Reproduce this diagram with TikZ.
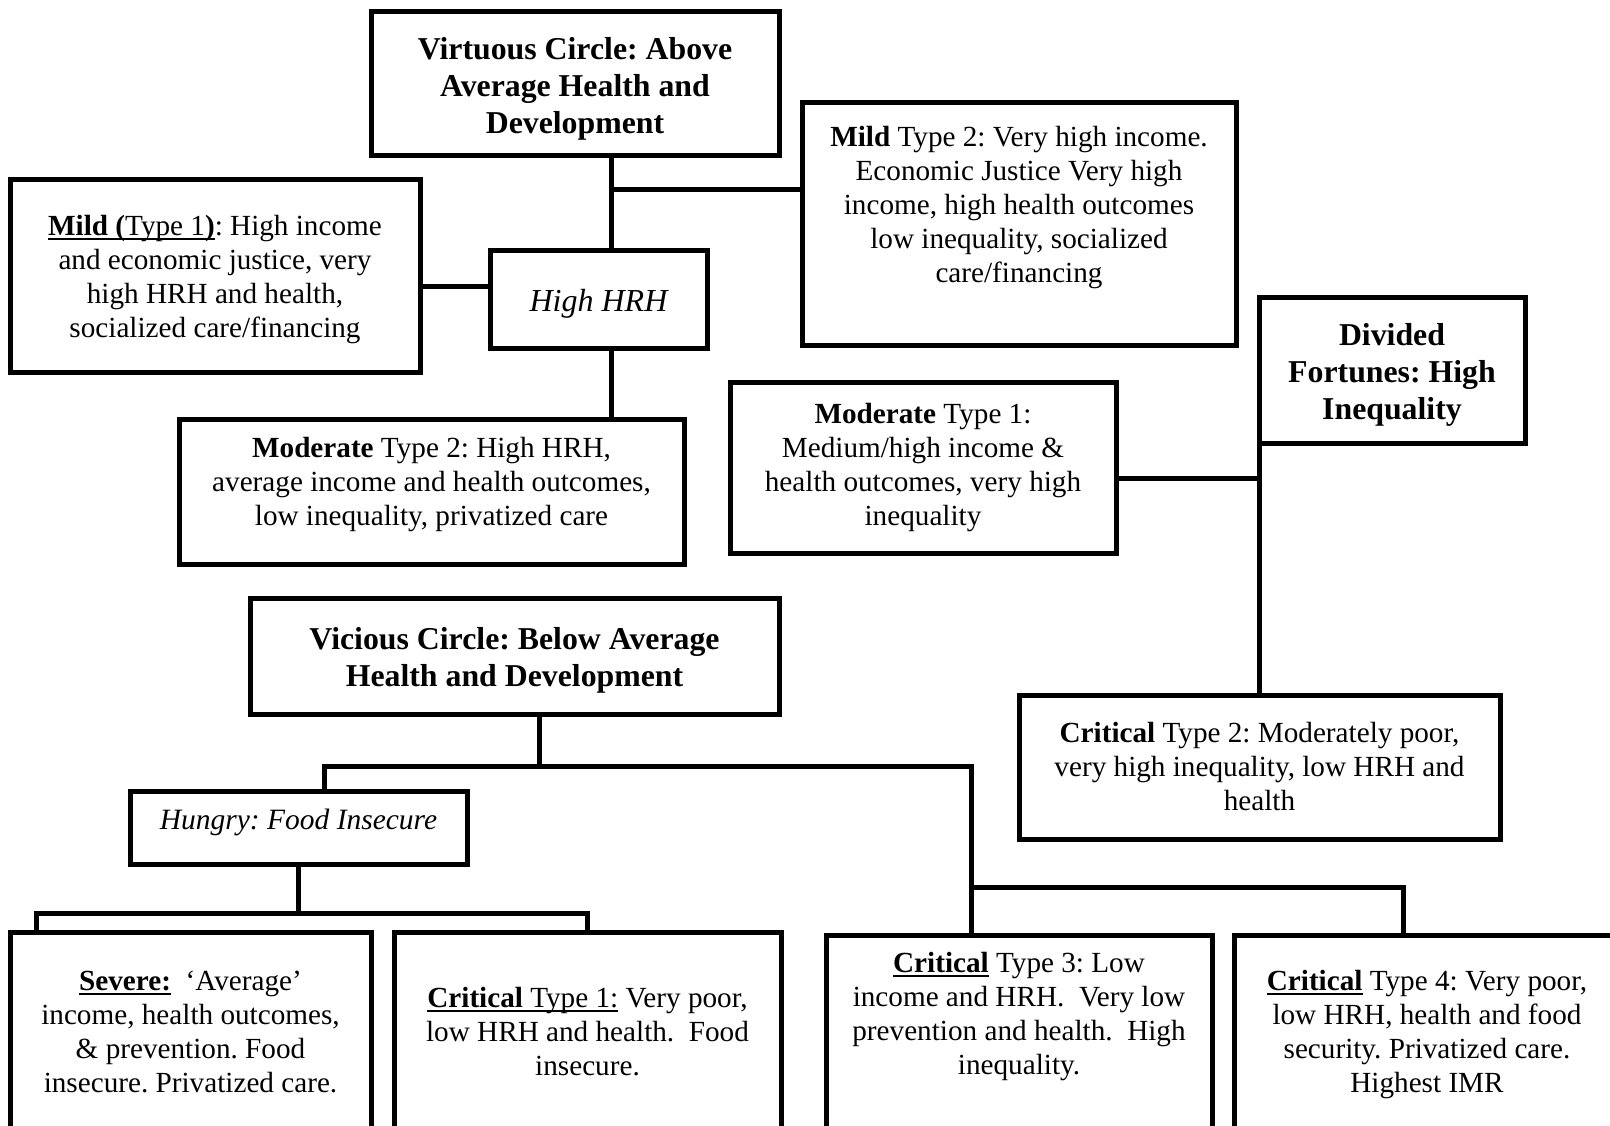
\documentclass[tikz,border=0pt]{standalone}
\usepackage{fontspec}
\setmainfont{Liberation Serif}
\usepackage{tikz}
\usetikzlibrary{positioning}

\frenchspacing
\newcommand{\bodyfont}{\fontsize{29.2}{34}\selectfont}
\newcommand{\headfont}{\fontsize{31.8}{37}\selectfont\bfseries}
\newsavebox{\undlbox}
\newcommand{\undl}[1]{\sbox{\undlbox}{#1}\rlap{\usebox{\undlbox}}\rule[-4.5pt]{\wd\undlbox}{2pt}}

\begin{document}
\begin{tikzpicture}[
    x=1pt, y=-1pt,
    box/.style={draw, line width=5pt, align=center, inner sep=0pt, font=\bodyfont},
    headbox/.style={box, font=\headfont},
    link/.style={line width=5pt}
]
\clip (0,0) rectangle (1610,1126);

% Nodes
\node[headbox, minimum width=408pt, minimum height=144pt, text height=105pt] (virt) at (575,84)
  {Virtuous Circle: Above\\Average Health and\\Development};
\node[box, minimum width=434pt, minimum height=242pt, text depth=40pt] (mildtwo) at (1019,224)
  {\textbf{Mild} Type 2: Very high income.\\Economic Justice Very high\\income, high health outcomes\\low inequality, socialized\\care/financing};
\node[box, minimum width=410pt, minimum height=192pt, text height=130pt] (mildone) at (215,276)
  {\undl{\textbf{Mild (}Type 1\textbf{)}}: High income\\and economic justice, very\\high HRH and health,\\socialized care/financing};
\node[box, minimum width=217pt, minimum height=97pt, text height=30pt, font=\fontsize{32}{37}\selectfont\itshape] (hh) at (598.5,299.5)
  {High HRH};
\node[box, minimum width=505pt, minimum height=145pt, text depth=20pt] (modtwo) at (431.5,491.5)
  {\textbf{Moderate} Type 2: High HRH,\\average income and health outcomes,\\low inequality, privatized care};
\node[box, minimum width=386pt, minimum height=171pt] (modone) at (923,467.5)
  {\textbf{Moderate} Type 1:\\Medium/high income \&\\health outcomes, very high\\inequality};
\node[headbox, minimum width=266pt, minimum height=145pt, text height=105pt] (div) at (1392,370.5)
  {Divided\\Fortunes: High\\Inequality};
\node[headbox, minimum width=529pt, minimum height=116pt, text height=68pt] (vic) at (514.5,656)
  {Vicious Circle: Below Average\\Health and Development};
\node[box, minimum width=481pt, minimum height=144pt] (crittwo) at (1259.5,767)
  {\textbf{Critical} Type 2: Moderately poor,\\very high inequality, low HRH and\\health};
\node[box, minimum width=337pt, minimum height=73pt, text depth=16pt, font=\fontsize{29.5}{34}\selectfont\itshape] (hungry) at (298.5,827.5)
  {Hungry: Food Insecure};
\node[box, minimum width=361pt, minimum height=200pt] (severe) at (190.5,1032)
  {\undl{\textbf{Severe:}}\ \ `Average'\\income, health outcomes,\\\& prevention. Food\\insecure. Privatized care.};
\node[box, minimum width=387pt, minimum height=200pt] (critone) at (587.5,1032)
  {\undl{\textbf{Critical} Type 1:} Very poor,\\low HRH and health.\ \ Food\\insecure.};
\node[box, minimum width=386pt, minimum height=200pt, text depth=44pt] (critthree) at (1019,1035)
  {\undl{\textbf{Critical}} Type 3: Low\\income and HRH.\ \ Very low\\prevention and health.\ \ High\\inequality.};
\node[box, minimum width=386pt, minimum height=200pt] (critfour) at (1427,1035)
  {\undl{\textbf{Critical}} Type 4: Very poor,\\low HRH, health and food\\security. Privatized care.\\Highest IMR};

% Junctions
\coordinate (vj) at (611,190);
\coordinate (hj) at (455,287);
\coordinate (dj) at (1259.5,478);
\coordinate (vtop) at (539,766);
\coordinate (hl) at (324,766);
\coordinate (hr) at (971,766);
\coordinate (lrr) at (1403,887);
\coordinate (fj) at (299,913);
\coordinate (fl) at (36,913);
\coordinate (fr) at (587,913);

% Upper tree
\draw[link] (virt.south -| vj) -- (hh.north -| vj);
\draw[link] (vj) -- (vj -| mildtwo.west);
\draw[link] (mildone.east |- hj) -- (hh.west |- hj);
\draw[link] (hh.south -| vj) -- (modtwo.north -| vj);
\draw[link] (crittwo.north |- div.south) -- (crittwo.north);
\draw[link] (modone.east |- dj) -- (dj);

% Lower tree
\draw[link] (vic.south -| vtop) -- (vtop);
\draw[link] (hungry.north -| hl) -- (hl) -- (hr) -- (critthree.north -| hr);
\draw[link] (hr |- lrr) -- (lrr) -- (critfour.north -| lrr);
\draw[link] (hungry.south) -- (hungry.south |- fj);
\draw[link] (severe.north -| fl) -- (fl) -- (fr) -- (critone.north -| fr);

\end{tikzpicture}
\end{document}
